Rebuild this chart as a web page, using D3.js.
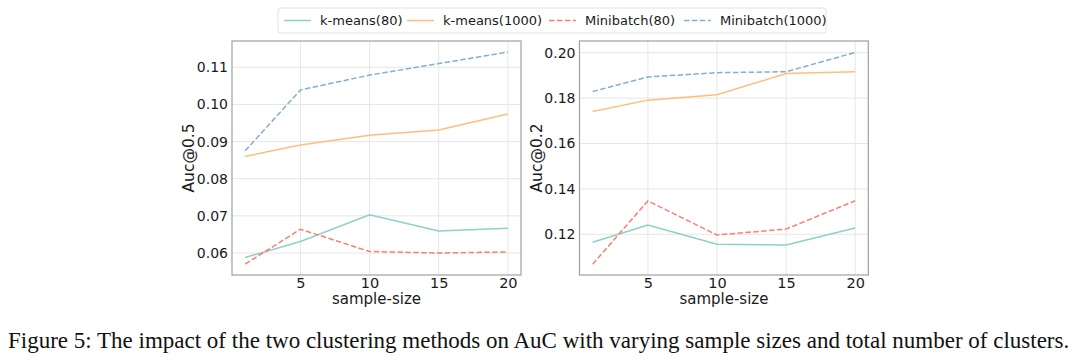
<!DOCTYPE html>
<html>
<head>
<meta charset="utf-8">
<script src="https://cdn.jsdelivr.net/npm/d3@7"></script>
<style>
  html, body { margin: 0; padding: 0; background: #fff; }
  svg { display: block; }
</style>
</head>
<body>
<svg id="chart" width="1080" height="360"></svg>
<script>
// ---- data ----
const sampleSizes = [1, 5, 10, 15, 20];
const seriesNames = ["k-means(80)", "k-means(1000)", "Minibatch(80)", "Minibatch(1000)"];
// Auc@0.5 panel
const auc05_kmeans80    = [0.0588, 0.0631, 0.0703, 0.0659, 0.0667];
const auc05_kmeans1000  = [0.0860, 0.0891, 0.0917, 0.0931, 0.0974];
const auc05_mini80      = [0.0570, 0.0664, 0.0604, 0.0600, 0.0603];
const auc05_mini1000    = [0.0875, 0.1039, 0.1079, 0.1110, 0.1141];
// Auc@0.2 panel
const auc02_kmeans80    = [0.1165, 0.1241, 0.1156, 0.1153, 0.1228];
const auc02_kmeans1000  = [0.1741, 0.1791, 0.1815, 0.1908, 0.1916];
const auc02_mini80      = [0.1068, 0.1347, 0.1197, 0.1223, 0.1348];
const auc02_mini1000    = [0.1829, 0.1893, 0.1912, 0.1916, 0.2001];
// ticks
const xTicks = [5, 10, 15, 20];
const yTicks05 = [0.06, 0.07, 0.08, 0.09, 0.10, 0.11];
const yTicks02 = [0.12, 0.14, 0.16, 0.18, 0.20];
const caption = "Figure 5: The impact of the two clustering methods on AuC with varying sample sizes and total number of clusters.";

// ---- styles ----
const colors = ["#8ECFC9", "#FFBE7A", "#FA7F6F", "#82B0D2"];
const dashed = [false, false, true, true];
const font = "'DejaVu Sans', sans-serif";

const svg = d3.select("#chart");

const panels = [
  { left: 232, right: 521, ydom: [0.05408, 0.11708], ticks: yTicks05, fmt: d3.format(".2f"),
    label: "Auc@0.5", series: [auc05_kmeans80, auc05_kmeans1000, auc05_mini80, auc05_mini1000] },
  { left: 579.5, right: 868.3, ydom: [0.10207, 0.20515], ticks: yTicks02, fmt: d3.format(".2f"),
    label: "Auc@0.2", series: [auc02_kmeans80, auc02_kmeans1000, auc02_mini80, auc02_mini1000] }
];
const plotTop = 41, plotBottom = 275;

panels.forEach(p => {
  const x = d3.scaleLinear().domain([0.05, 20.95]).range([p.left, p.right]);
  const y = d3.scaleLinear().domain(p.ydom).range([plotBottom, plotTop]);
  const g = svg.append("g");

  // grid
  g.selectAll(".vg").data(xTicks).join("line")
    .attr("x1", d => x(d)).attr("x2", d => x(d))
    .attr("y1", plotTop).attr("y2", plotBottom)
    .attr("stroke", "#e6e6e6").attr("stroke-width", 1);
  g.selectAll(".hg").data(p.ticks).join("line")
    .attr("x1", p.left).attr("x2", p.right)
    .attr("y1", d => y(d)).attr("y2", d => y(d))
    .attr("stroke", "#e6e6e6").attr("stroke-width", 1);

  // axes labels via d3 axes (no tick lines)
  const xa = g.append("g").attr("transform", `translate(0,${plotBottom})`)
    .call(d3.axisBottom(x).tickValues(xTicks).tickSize(0).tickPadding(3));
  xa.select(".domain").remove();
  xa.selectAll("text").attr("font-family", font).attr("font-size", 14.5).attr("fill", "#1a1a1a");

  const ya = g.append("g").attr("transform", `translate(${p.left},0)`)
    .call(d3.axisLeft(y).tickValues(p.ticks).tickFormat(p.fmt).tickSize(0).tickPadding(4));
  ya.select(".domain").remove();
  ya.selectAll("text").attr("font-family", font).attr("font-size", 14).attr("fill", "#1a1a1a");

  // lines
  const line = d3.line().x((d, i) => x(sampleSizes[i])).y(d => y(d));
  p.series.forEach((s, k) => {
    g.append("path").datum(s)
      .attr("d", line)
      .attr("fill", "none")
      .attr("stroke", colors[k])
      .attr("stroke-width", 1.5)
      .attr("stroke-dasharray", dashed[k] ? "5.5,2.4" : null);
  });

  // frame
  g.append("rect").attr("x", p.left).attr("y", plotTop)
    .attr("width", p.right - p.left).attr("height", plotBottom - plotTop)
    .attr("fill", "none").attr("stroke", "#a0a0a0").attr("stroke-width", 1.2);

  // axis titles
  g.append("text").attr("x", (p.left + p.right) / 2).attr("y", 304)
    .attr("text-anchor", "middle").attr("font-family", font).attr("font-size", 15)
    .attr("fill", "#1a1a1a").text("sample-size");
  g.append("text")
    .attr("transform", `translate(${p.left - 38},${(plotTop + plotBottom) / 2}) rotate(-90)`)
    .attr("text-anchor", "middle").attr("font-family", font).attr("font-size", 15.5)
    .attr("fill", "#1a1a1a").text(p.label);
});

// legend
const lg = svg.append("g");
lg.append("rect").attr("x", 278).attr("y", 8).attr("width", 548).attr("height", 25)
  .attr("rx", 3).attr("fill", "#fff").attr("stroke", "#e2e2e2").attr("stroke-width", 1);
const legendX = [284, 407, 549, 684];
seriesNames.forEach((n, k) => {
  lg.append("line").attr("x1", legendX[k]).attr("x2", legendX[k] + 27)
    .attr("y1", 20.5).attr("y2", 20.5)
    .attr("stroke", colors[k]).attr("stroke-width", 1.5)
    .attr("stroke-dasharray", dashed[k] ? "5.5,2.4" : null);
  lg.append("text").attr("x", legendX[k] + 36).attr("y", 25)
    .attr("font-family", font).attr("font-size", 13).attr("fill", "#1a1a1a").text(n);
});

// caption
svg.append("text").attr("x", 8).attr("y", 348)
  .attr("font-family", "'Liberation Serif', 'Times New Roman', serif")
  .attr("font-size", 23).attr("fill", "#111").text(caption);
</script>
</body>
</html>
